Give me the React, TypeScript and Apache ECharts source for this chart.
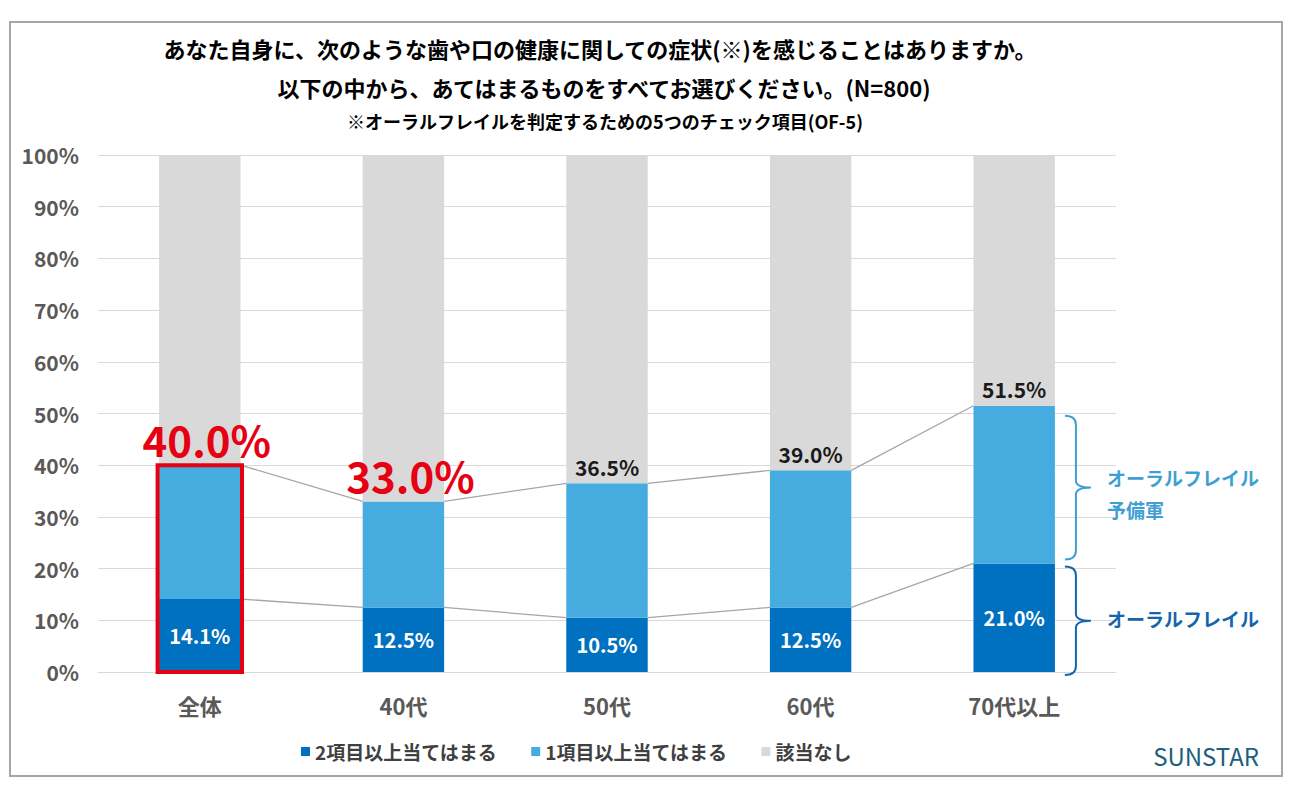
import React, { useEffect, useRef } from "react";
import * as echarts from "echarts";

const categories = ["全体", "40代", "50代", "60代", "70代以上"];
const seriesNames = ["2項目以上当てはまる", "1項目以上当てはまる", "該当なし"];
const twoPlus = [14.1, 12.5, 10.5, 12.5, 21.0];
const onePlusSeg = [25.9, 20.5, 26.0, 26.5, 30.5];
const noneSeg = [60.0, 67.0, 63.5, 61.0, 48.5];
const totals = [40.0, 33.0, 36.5, 39.0, 51.5];
const highlighted = [0, 1];
const yTicks = { min: 0, max: 100, interval: 10 };

const FONT = '"Noto Sans CJK JP", "Noto Sans", sans-serif';
const DARK = "#0070c0";
const LIGHT = "#46acdf";
const GRAY = "#d9d9d9";
const RED = "#e60012";
const BAR_RATIO = 0.4;

function bracePath(x0: number, yT: number, yB: number) {
  const xm = x0 + 11;
  const ym = (yT + yB) / 2;
  return (
    `M${x0},${yT} Q${xm},${yT} ${xm},${yT + 9} L${xm},${ym - 7} ` +
    `Q${xm},${ym} ${xm + 15},${ym} Q${xm},${ym} ${xm},${ym + 7} ` +
    `L${xm},${yB - 9} Q${xm},${yB} ${x0},${yB}`
  );
}

export default function App() {
  const ref = useRef<HTMLDivElement>(null);
  useEffect(() => {
    if (!ref.current) return;
    const chart = echarts.init(ref.current, null, { renderer: "svg" });
    const option: any = {
      animation: false,
      backgroundColor: "#ffffff",
      textStyle: { fontFamily: FONT },
      grid: { left: 98, right: 178, top: 155, bottom: 124, containLabel: false },
      legend: {
        data: seriesNames,
        top: 737,
        left: 296,
        icon: "rect",
        itemWidth: 9,
        itemHeight: 9,
        itemGap: 34,
        textStyle: { fontSize: 19, color: "#404040", fontWeight: "bold", fontFamily: FONT },
      },
      xAxis: {
        type: "category",
        data: categories,
        axisLine: { show: true, lineStyle: { color: GRAY, width: 1 } },
        axisTick: { show: false },
        axisLabel: { color: "#595959", fontSize: 22, fontWeight: "bold", margin: 22, fontFamily: FONT },
      },
      yAxis: {
        type: "value",
        min: yTicks.min,
        max: yTicks.max,
        interval: yTicks.interval,
        axisLine: { show: false },
        axisTick: { show: false },
        splitLine: { lineStyle: { color: GRAY, width: 1 } },
        axisLabel: {
          color: "#595959",
          fontSize: 21,
          fontWeight: "bold",
          margin: 19,
          fontFamily: FONT,
          formatter: (v: number) => v + "%",
        },
      },
      graphic: [
        {
          type: "rect",
          shape: { x: 10, y: 22, width: 1272, height: 754 },
          style: { fill: "none", stroke: "#a6a6a6", lineWidth: 2 },
          silent: true,
        },
        {
          type: "text",
          x: 600,
          y: 48,
          style: {
            text: "あなた自身に、次のような歯や口の健康に関しての症状(※)を感じることはありますか。",
            fill: "#000",
            font: `bold 22px ${FONT}`,
            align: "center",
            verticalAlign: "middle",
          },
        },
        {
          type: "text",
          x: 604,
          y: 87,
          style: {
            text: "以下の中から、あてはまるものをすべてお選びください。(N=800)",
            fill: "#000",
            font: `bold 22px ${FONT}`,
            align: "center",
            verticalAlign: "middle",
          },
        },
        {
          type: "text",
          x: 605,
          y: 121,
          style: {
            text: "※オーラルフレイルを判定するための5つのチェック項目(OF-5)",
            fill: "#000",
            font: `bold 18px ${FONT}`,
            align: "center",
            verticalAlign: "middle",
          },
        },
        {
          type: "text",
          x: 1259,
          y: 755,
          style: {
            text: "SUNSTAR",
            fill: "#1d5f7c",
            font: `24px ${FONT}`,
            align: "right",
            verticalAlign: "middle",
          },
        },
      ],
      series: [
        {
          name: seriesNames[0],
          type: "bar",
          stack: "a",
          barWidth: BAR_RATIO * 100 + "%",
          itemStyle: { color: DARK },
          label: {
            show: true,
            position: "inside",
            color: "#fff",
            fontSize: 20,
            fontWeight: "bold",
            fontFamily: FONT,
            formatter: (p: any) => p.value.toFixed(1) + "%",
          },
          data: twoPlus,
        },
        {
          name: seriesNames[1],
          type: "bar",
          stack: "a",
          itemStyle: { color: LIGHT },
          data: onePlusSeg,
        },
        {
          name: seriesNames[2],
          type: "bar",
          stack: "a",
          itemStyle: { color: GRAY },
          label: {
            show: true,
            position: "insideBottom",
            distance: 6,
            color: "#1a1a1a",
            fontSize: 21,
            fontWeight: "bold",
            fontFamily: FONT,
            formatter: (p: any) => totals[p.dataIndex].toFixed(1) + "%",
          },
          data: noneSeg.map((v, i) =>
            highlighted.includes(i)
              ? {
                  value: v,
                  label: {
                    color: RED,
                    fontSize: 42,
                    fontWeight: "bold",
                    distance: 6,
                    offset: [7, 0],
                  },
                }
              : v
          ),
        },
        {
          type: "custom",
          silent: true,
          clip: false,
          data: [0, 1, 2, 3].map((i) => [i, 0]),
          renderItem: (params: any, api: any) => {
            const i = api.value(0);
            const hw = (api.size([1, 0])[0] * BAR_RATIO) / 2;
            const a1 = api.coord([i, twoPlus[i]]);
            const b1 = api.coord([i + 1, twoPlus[i + 1]]);
            const a2 = api.coord([i, totals[i]]);
            const b2 = api.coord([i + 1, totals[i + 1]]);
            const st = { stroke: "#a6a6a6", lineWidth: 1.3 };
            return {
              type: "group",
              children: [
                { type: "line", shape: { x1: a1[0] + hw, y1: a1[1], x2: b1[0] - hw, y2: b1[1] }, style: st },
                { type: "line", shape: { x1: a2[0] + hw, y1: a2[1], x2: b2[0] - hw, y2: b2[1] }, style: st },
              ],
            };
          },
        },
        {
          type: "custom",
          silent: true,
          clip: false,
          z: 5,
          data: [[highlighted[0], totals[highlighted[0]]]],
          renderItem: (params: any, api: any) => {
            const i = api.value(0);
            const bw = api.size([1, 0])[0] * BAR_RATIO;
            const base = api.coord([i, 0]);
            const top = api.coord([i, api.value(1)]);
            return {
              type: "rect",
              shape: { x: base[0] - bw / 2 - 1.5, y: top[1], width: bw + 3, height: base[1] - top[1] },
              style: { fill: "none", stroke: RED, lineWidth: 4 },
            };
          },
        },
        {
          type: "custom",
          silent: true,
          clip: false,
          data: [[categories.length - 1, 0]],
          renderItem: (params: any, api: any) => {
            const i = api.value(0);
            const hw = (api.size([1, 0])[0] * BAR_RATIO) / 2;
            const cTop = api.coord([i, totals[i]]);
            const cMid = api.coord([i, twoPlus[i]]);
            const cBase = api.coord([i, 0]);
            const x0 = cTop[0] + hw + 10;
            const up = { t: cTop[1] + 10, b: cMid[1] - 4 };
            const lo = { t: cMid[1] + 3, b: cBase[1] + 3 };
            const upMid = (up.t + up.b) / 2;
            const loMid = (lo.t + lo.b) / 2;
            const upColor = "#3f9fd2";
            const loColor = "#1565ab";
            return {
              type: "group",
              children: [
                {
                  type: "path",
                  shape: { pathData: bracePath(x0, up.t, up.b) },
                  style: { fill: "none", stroke: upColor, lineWidth: 2 },
                },
                {
                  type: "path",
                  shape: { pathData: bracePath(x0, lo.t, lo.b) },
                  style: { fill: "none", stroke: loColor, lineWidth: 2 },
                },
                {
                  type: "text",
                  style: {
                    text: "オーラルフレイル\n予備軍",
                    x: x0 + 42,
                    y: upMid + 6,
                    fill: upColor,
                    font: `bold 19px ${FONT}`,
                    lineHeight: 32,
                    align: "left",
                    verticalAlign: "middle",
                  },
                },
                {
                  type: "text",
                  style: {
                    text: "オーラルフレイル",
                    x: x0 + 42,
                    y: loMid - 2,
                    fill: loColor,
                    font: `bold 19px ${FONT}`,
                    align: "left",
                    verticalAlign: "middle",
                  },
                },
              ],
            };
          },
        },
      ],
    };
    chart.setOption(option);
    return () => chart.dispose();
  }, []);
  return (
    <div
      ref={ref}
      style={{ position: "fixed", left: 0, top: 0, width: 1294, height: 796 }}
    />
  );
}
